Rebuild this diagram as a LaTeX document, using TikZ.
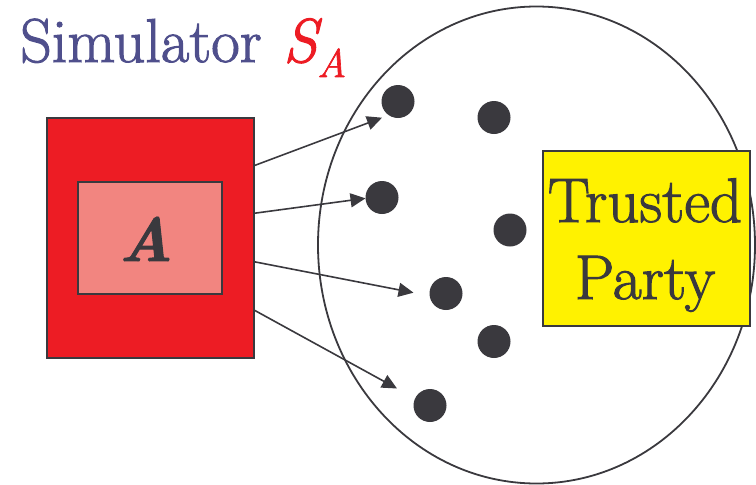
\documentclass[tikz,border=0pt]{standalone}
\usepackage{fontspec}
\newfontfamily\heavy{lmroman17-regular.otf}[FakeBold=1.6, ItalicFont=lmroman12-italic.otf, BoldItalicFont=lmroman10-bolditalic.otf]
\usetikzlibrary{arrows.meta}
\definecolor{titleblue}{HTML}{4F4F8C}
\definecolor{sred}{HTML}{ED1C24}
\definecolor{apink}{HTML}{F28580}
\definecolor{tyellow}{HTML}{FFF200}
\definecolor{dark}{HTML}{3A393E}
\tikzset{
  box/.style={draw=dark, line width=2pt, inner sep=0pt, anchor=center},
  dot/.style={circle, fill=dark, minimum size=33pt, inner sep=0pt},
  arr/.style={draw=dark, line width=1.6pt, -{Triangle[length=15pt,width=14pt]}},
  bigtext/.style={anchor=base, inner sep=0pt, text=dark, font=\heavy\fontsize{63pt}{63pt}\selectfont},
  titletext/.style={anchor=base west, inner sep=0pt},
}
\begin{document}
\begin{tikzpicture}[x=1pt,y=-1pt]
\useasboundingbox (0,0) rectangle (756,485);
% title
\node[titletext, text=titleblue, font=\heavy\fontsize{62pt}{62pt}\selectfont] (title) at (20,62) {Simulator};
\node[titletext, text=sred, font=\heavy\fontsize{62pt}{62pt}\selectfont\itshape] (sa) at (283,62) {S};
\node[titletext, text=sred, font=\heavy\fontsize{40pt}{40pt}\selectfont\itshape] (sub) at (317,77) {A};
% ellipse
\draw[dark, line width=1.8pt] (536.5,245) ellipse [x radius=218.5, y radius=238.5];
% simulator box
\node[box, fill=sred, minimum width=207pt, minimum height=240pt] (sim) at (150,237.5) {};
\node[box, fill=apink, minimum width=144pt, minimum height=112pt] (adv) at (150,238) {};
\node[anchor=base, inner sep=0pt, text=dark, font=\heavy\fontsize{62pt}{62pt}\selectfont\bfseries\itshape] (alabel) at (146,261) {A};
% trusted party
\node[box, fill=tyellow, minimum width=207pt, minimum height=175pt] (tp) at (646,238) {};
\node[bigtext] (tp1) at (645,222) {Trusted};
\node[bigtext] (tp2) at (645,299) {Party};
% dots
\node[dot] (d1) at (398,101.5) {};
\node[dot] (d2) at (494,117.5) {};
\node[dot] (d3) at (382,197.5) {};
\node[dot] (d4) at (510,230) {};
\node[dot] (d5) at (446,293.5) {};
\node[dot] (d6) at (494,341.5) {};
\node[dot] (d7) at (430,405.5) {};
% arrows
\coordinate (s1) at (254,165.7);
\coordinate (s2) at (254,213.3);
\coordinate (s3) at (254,261.7);
\coordinate (s4) at (254,310);
\coordinate (t1) at (382,117.7);
\coordinate (t2) at (365.5,198.3);
\coordinate (t3) at (413.5,292.7);
\coordinate (t4) at (397,388.5);
\draw[arr] (s1) -- (t1);
\draw[arr] (s2) -- (t2);
\draw[arr] (s3) -- (t3);
\draw[arr] (s4) -- (t4);
\end{tikzpicture}
\end{document}
